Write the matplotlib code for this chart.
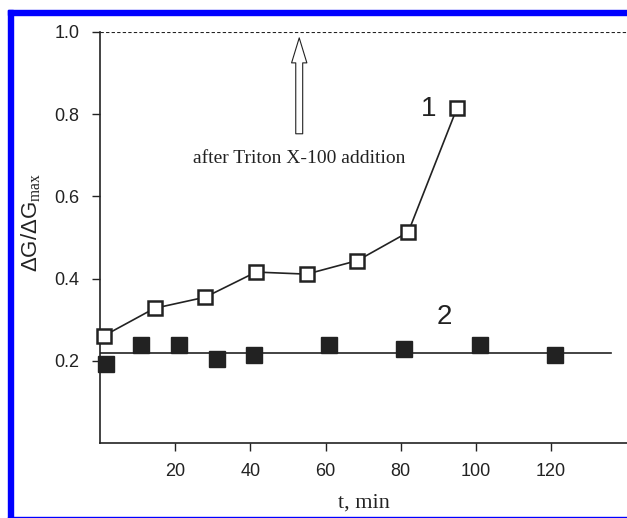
import matplotlib
matplotlib.use('Agg')
import matplotlib.pyplot as plt
from matplotlib.patches import Rectangle

plt.rcParams['font.family'] = ['Liberation Sans', 'DejaVu Sans']
plt.rcParams['mathtext.fontset'] = 'custom'
plt.rcParams['mathtext.rm'] = 'Liberation Serif'

# curve 1: open squares
t1 = [1, 14.5, 28, 41.5, 55, 68.5, 82, 95]
g1 = [0.261, 0.328, 0.355, 0.416, 0.411, 0.444, 0.513, 0.815]

# curve 2: filled squares with flat level
t2 = [1.5, 11, 21, 31, 41, 61, 81, 101, 121]
g2 = [0.193, 0.240, 0.240, 0.204, 0.215, 0.240, 0.228, 0.240, 0.215]
level2 = 0.22
level2_span = [0, 136]

xticks = [20, 40, 60, 80, 100, 120]
yticks = [0.2, 0.4, 0.6, 0.8, 1.0]
arrow_t = 53

fig = plt.figure(figsize=(6.27, 5.18), dpi=100)
ax = fig.add_axes([100 / 627, 1 - 443.3 / 518, 527 / 627, 411.6 / 518])

dark = '#222222'
ax.axhline(1.0, color=dark, lw=0.8, ls=(0, (3, 2)))
ax.plot(level2_span, [level2, level2], color=dark, lw=1.2)
ax.plot(t2, g2, ls='none', marker='s', ms=11, color=dark, clip_on=False)
ax.plot(t1, g1, color=dark, lw=1.2, marker='s', ms=9.5, mfc='white',
        mec=dark, mew=1.8, clip_on=False, zorder=3)

ax.annotate('', xy=(arrow_t, 0.985), xytext=(arrow_t, 0.752),
            arrowprops=dict(arrowstyle='simple,head_length=18,head_width=11,tail_width=5',
                            mutation_scale=1, fc='white', ec=dark, lw=0.8,
                            shrinkA=0, shrinkB=0))
ax.text(arrow_t, 0.693, 'after Triton X-100 addition', ha='center', va='center',
        family='Liberation Serif', fontsize=14, color=dark)

ax.text(87.5, 0.813, '1', ha='center', va='center', fontsize=20, color=dark)
ax.text(91.5, 0.308, '2', ha='center', va='center', fontsize=20, color=dark)

ax.set_xlim(0, 140.2)
ax.set_ylim(0, 1.0)
ax.set_xticks(xticks)
ax.set_yticks(yticks)
ax.set_yticklabels(['%.1f' % v for v in yticks])
ax.tick_params(direction='out', length=6, width=1, colors=dark, labelsize=13)
ax.tick_params(axis='y', pad=9)
ax.tick_params(axis='x', pad=8)

for s in ['top', 'right']:
    ax.spines[s].set_visible(False)
for s in ['left', 'bottom']:
    ax.spines[s].set_color(dark)
    ax.spines[s].set_linewidth(1.2)

ax.set_xlabel('t, min', family='Liberation Serif', fontsize=16, color=dark, labelpad=10)
fig.text(31 / 627, 1 - 222 / 518, 'ΔG/ΔG$_{\\mathrm{max}}$', rotation=90,
         ha='center', va='center', fontsize=16, color=dark)

# blue frame
blue = '#0000ff'
fig.patches.append(Rectangle((8 / 627, 1 - 15 / 518), 1, 5 / 518, transform=fig.transFigure,
                             color=blue, zorder=0))
fig.patches.append(Rectangle((8 / 627, 0), 5 / 627, 1 - 10 / 518, transform=fig.transFigure,
                             color=blue, zorder=0))
fig.patches.append(Rectangle((8 / 627, 0), 1, 1.5 / 518, transform=fig.transFigure,
                             color=blue, zorder=0))

fig.savefig('out.png', dpi=100)
